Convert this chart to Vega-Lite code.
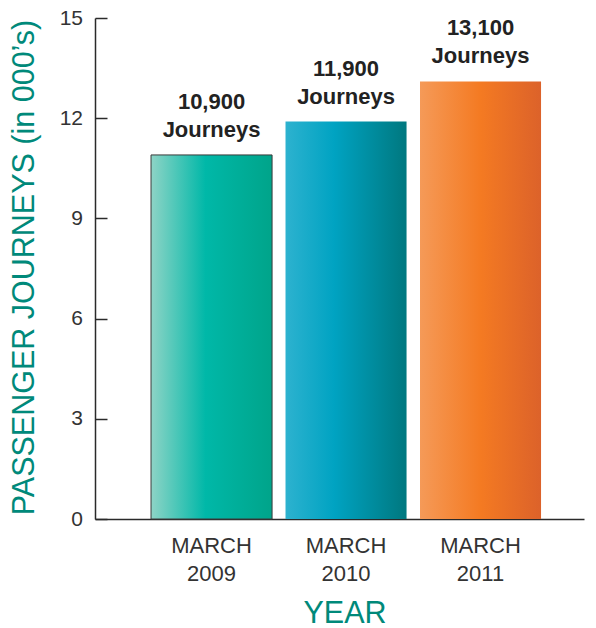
{
  "$schema": "https://vega.github.io/schema/vega-lite/v6.json",
  "width": 489,
  "height": 501,
  "autosize": {"type": "none"},
  "padding": {"left": 95, "top": 18, "right": 12, "bottom": 109},
  "background": "white",
  "config": {"view": {"stroke": null}, "font": "Liberation Sans"},
  "data": {
    "values": [
      {"year": "2009", "journeys": 10.9, "label": "10,900\nJourneys"},
      {"year": "2010", "journeys": 11.9, "label": "11,900\nJourneys"},
      {"year": "2011", "journeys": 13.1, "label": "13,100\nJourneys"}
    ]
  },
  "encoding": {
    "x": {
      "field": "year",
      "type": "nominal",
      "sort": null,
      "scale": {"paddingInner": 0.1, "paddingOuter": 0.368, "align": 0.566},
      "axis": {
        "title": "YEAR",
        "labelExpr": "['MARCH', datum.value]",
        "labelAngle": 0,
        "ticks": false,
        "tickSize": 0,
        "labelPadding": 16,
        "labelFontSize": 22,
        "labelColor": "#333333",
        "labelLineHeight": 28,
        "domainColor": "#2a2a2a",
        "domainWidth": 1.5,
        "titleFontSize": 30.5,
        "titleFontWeight": "normal",
        "titleColor": "#00897a",
        "titleX": 249.5,
        "titleY": 103,
        "titleBaseline": "alphabetic",
        "titleAlign": "center"
      }
    },
    "y": {
      "field": "journeys",
      "type": "quantitative",
      "scale": {"domain": [0, 15], "nice": false},
      "axis": {
        "title": "PASSENGER JOURNEYS (in 000’s)",
        "values": [0, 3, 6, 9, 12, 15],
        "grid": false,
        "tickSize": -12,
        "tickWidth": 1.5,
        "tickColor": "#2a2a2a",
        "domainColor": "#2a2a2a",
        "domainWidth": 1.5,
        "labelPadding": 24.5,
        "labelFlush": false,
        "labelFontSize": 21,
        "labelColor": "#333333",
        "titleFontSize": 30.5,
        "titleFontWeight": "normal",
        "titleColor": "#00897a",
        "titleX": -71,
        "titleY": 249,
        "titleAngle": -90,
        "titleBaseline": "middle",
        "titleAlign": "center"
      }
    }
  },
  "layer": [
    {
      "transform": [{"filter": "datum.year === '2009'"}],
      "mark": {
        "type": "bar",
        "fill": {"gradient": "linear", "x1": 0, "x2": 1, "y1": 0, "y2": 0, "stops": [
          {"offset": 0, "color": "#8ed4c6"},
          {"offset": 0.45, "color": "#00b8a8"},
          {"offset": 1, "color": "#00a48a"}
        ]},
        "stroke": "#3a3a3a",
        "strokeWidth": 1
      }
    },
    {
      "transform": [{"filter": "datum.year === '2010'"}],
      "mark": {
        "type": "bar",
        "fill": {"gradient": "linear", "x1": 0, "x2": 1, "y1": 0, "y2": 0, "stops": [
          {"offset": 0, "color": "#2db2cf"},
          {"offset": 0.4, "color": "#00a3c2"},
          {"offset": 1, "color": "#00787f"}
        ]}
      }
    },
    {
      "transform": [{"filter": "datum.year === '2011'"}],
      "mark": {
        "type": "bar",
        "fill": {"gradient": "linear", "x1": 0, "x2": 1, "y1": 0, "y2": 0, "stops": [
          {"offset": 0, "color": "#f59a58"},
          {"offset": 0.5, "color": "#f47a22"},
          {"offset": 1, "color": "#dc622a"}
        ]}
      }
    },
    {
      "mark": {
        "type": "text",
        "lineBreak": "\n",
        "baseline": "alphabetic",
        "dy": -46,
        "fontSize": 22,
        "fontWeight": "bold",
        "color": "#222222",
        "lineHeight": 28
      },
      "encoding": {"text": {"field": "label"}}
    }
  ]
}
